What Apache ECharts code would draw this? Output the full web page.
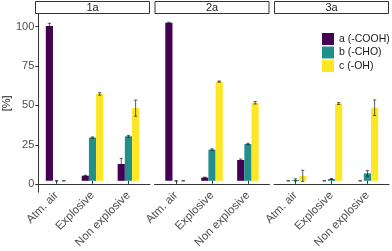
<!DOCTYPE html>
<html><head><meta charset="utf-8">
<script src="https://cdn.jsdelivr.net/npm/echarts@6/dist/echarts.min.js"></script>
<style>html,body{margin:0;padding:0;background:#fff}#c{width:392px;height:251px}</style>
</head><body><div id="c"></div>
<script>
const panels = ['1a', '2a', '3a'];
const categories = ['Atm. air', 'Explosive', 'Non explosive'];
const seriesNames = ['a (-COOH)', 'b (-CHO)', 'c (-OH)'];
const yTicks = [0, 25, 50, 75, 100];
// values [panel][category]
const valA = [[100.2, 3.3, 10.9], [102.2, 2.1, 13.5], [0, 0, 0]];
const errA = [[1.7, 0.3, 3.6], [0.4, 0.3, 0.6], [0, 0, 0]];
const valB = [[0, 28.0, 28.8], [0, 20.2, 23.8], [0.6, 1.2, 4.8]];
const errB = [[0, 0.4, 0.6], [0, 0.5, 0.5], [0.7, 0.3, 1.8]];
const valC = [[0, 56.2, 47.0], [0, 64.2, 50.5], [3.2, 50.0, 47.3]];
const errC = [[0, 0.8, 5.2], [0, 0.4, 0.8], [3.6, 0.6, 5.0]];

const colors = ['#440154', '#21908C', '#FDE725'];
const vals = [valA, valB, valC];
const errs = [errA, errB, errC];

const panelLeft = [35, 154.5, 274];
const panelW = 115;
const plotTop = 14.5, plotH = 177.8;
const yMin = -5, yMax = 107.6;
const expand = 0.6; // discrete expansion in category units
const band = panelW / (categories.length - 1 + 2 * expand);
const barInset = (expand - 0.5) * band;

const grid = [], xAxis = [], yAxis = [], series = [], graphic = [];
const font = 'Liberation Sans, Arial, sans-serif';

panels.forEach((pn, p) => {
  const L = panelLeft[p];
  grid.push({left: L, top: plotTop, width: panelW, height: plotH});
  xAxis.push({type: 'value', gridIndex: 2 * p, min: 0, max: 1,
    axisLine: {show: true, lineStyle: {color: '#333', width: 1}},
    axisTick: {show: false}, axisLabel: {show: false}, splitLine: {show: false}});
  yAxis.push({type: 'value', gridIndex: 2 * p, min: yMin, max: yMax,
    show: p === 0,
    name: p === 0 ? '[%]' : '', nameLocation: 'middle', nameGap: 24, nameRotate: 90,
    nameTextStyle: {color: '#1a1a1a', fontSize: 11, fontFamily: font},
    axisLine: {show: p === 0, lineStyle: {color: '#333', width: 1}},
    axisTick: {show: p === 0, length: 3, customValues: yTicks, lineStyle: {color: '#333'}},
    axisLabel: {show: p === 0, customValues: yTicks, color: '#4d4d4d', fontSize: 11, margin: 4, fontFamily: font},
    splitLine: {show: false}});
  grid.push({left: L + barInset, top: plotTop, width: panelW - 2 * barInset, height: plotH});
  xAxis.push({type: 'category', gridIndex: 2 * p + 1, data: categories,
    axisLine: {show: false},
    axisTick: {show: true, alignWithLabel: true, length: 3, lineStyle: {color: '#333'}},
    axisLabel: {rotate: 45, color: '#4d4d4d', fontSize: 11.5, margin: 5, interval: 0, fontFamily: font},
    splitLine: {show: false}});
  yAxis.push({type: 'value', gridIndex: 2 * p + 1, min: yMin, max: yMax, show: false, splitLine: {show: false}});

  const errData = [];
  seriesNames.forEach((sn, k) => {
    series.push({type: 'bar', name: sn, xAxisIndex: 2 * p + 1, yAxisIndex: 2 * p + 1,
      data: vals[k][p], barWidth: '20%', barGap: '0%', itemStyle: {color: colors[k]},
      emphasis: {disabled: true}});
    vals[k][p].forEach((v, c) => {
      errData.push([c, v - errs[k][p][c], v + errs[k][p][c], k]);
    });
  });
  series.push({type: 'custom', xAxisIndex: 2 * p + 1, yAxisIndex: 2 * p + 1,
    data: errData, encode: {x: 0, y: [1, 2]}, z: 10,
    renderItem: function (params, api) {
      const c = api.value(0), lo = api.value(1), hi = api.value(2), k = api.value(3);
      const bnd = api.size([1, 0])[0];
      const bw = bnd * 0.2;
      const cx = api.coord([c, 0])[0] + (k - 1) * bw;
      const yl = api.coord([c, lo])[1], yh = api.coord([c, hi])[1];
      const cap = bnd * 0.045;
      const st = {stroke: '#1a1a1a', lineWidth: 0.7};
      return {type: 'group', children: [
        {type: 'line', shape: {x1: cx, y1: yl, x2: cx, y2: yh}, style: st},
        {type: 'line', shape: {x1: cx - cap, y1: yl, x2: cx + cap, y2: yl}, style: st},
        {type: 'line', shape: {x1: cx - cap, y1: yh, x2: cx + cap, y2: yh}, style: st}
      ]};
    }});

  graphic.push({type: 'rect', shape: {x: L + 0.5, y: 1.5, width: panelW - 1, height: 12},
    style: {fill: '#fff', stroke: '#333', lineWidth: 1}});
  graphic.push({type: 'text', x: L + panelW / 2, y: 7.5,
    style: {text: pn, fill: '#1a1a1a', font: '11px ' + font, align: 'center', verticalAlign: 'middle'}});
});

const chart = echarts.init(document.getElementById('c'), null, {renderer: 'canvas'});
chart.setOption({
  animation: false,
  color: colors,
  grid: grid, xAxis: xAxis, yAxis: yAxis, series: series, graphic: graphic,
  legend: {data: seriesNames, orient: 'vertical', left: 322, top: 33, padding: 0,
    itemWidth: 12, itemHeight: 12, itemGap: 1.5, icon: 'rect',
    textStyle: {color: '#1a1a1a', fontSize: 10.5, fontFamily: font}}
});
</script></body></html>
